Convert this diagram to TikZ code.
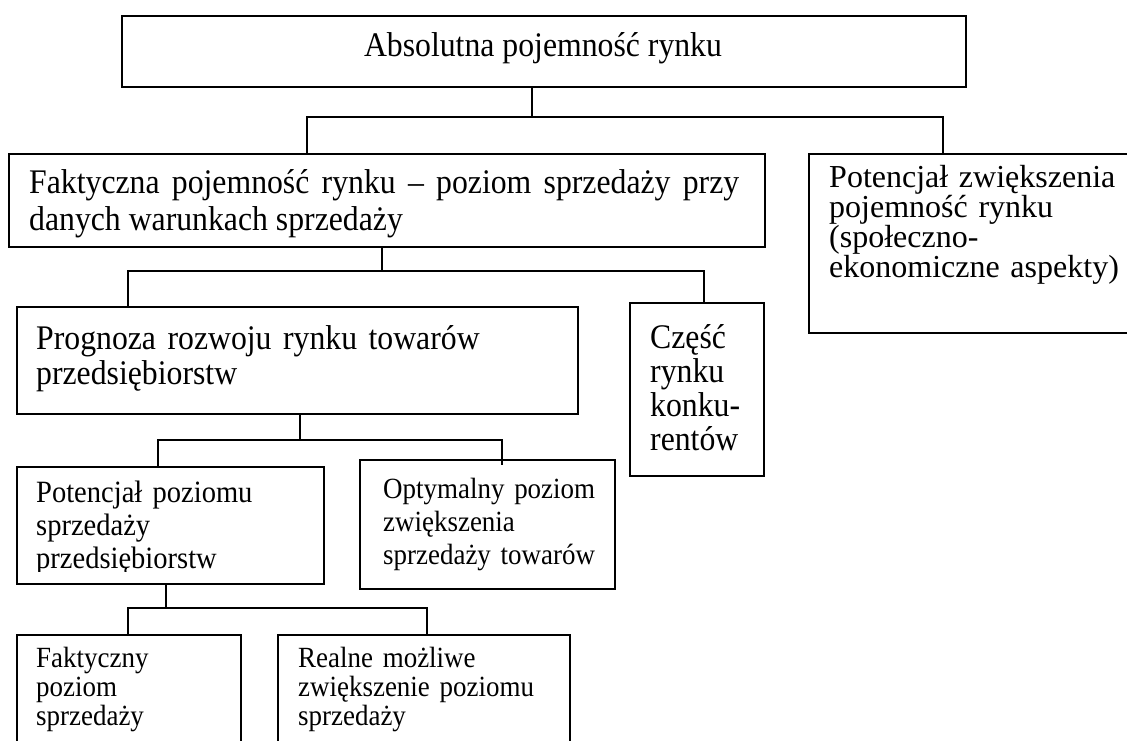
\documentclass[tikz,border=0pt]{standalone}
\usepackage{fontspec}
\setmainfont{Liberation Serif}
\newfontfamily\condfont[FakeStretch=0.92]{Liberation Serif}
\usetikzlibrary{calc}
\begin{document}
\begin{tikzpicture}[x=1pt,y=-1pt,
  box/.style={draw, line width=1.8pt, inner sep=0pt, anchor=north west},
  link/.style={line width=1.5pt},
  txt/.style={anchor=base west, inner sep=0pt, align=left},
  bigA/.style={font=\condfont\fontsize{34.5}{37}\selectfont},
  bigB/.style={font=\condfont\fontsize{34.5}{35}\selectfont},
  bigC/.style={font=\condfont\fontsize{34.5}{34}\selectfont},
  bigD/.style={font=\fontsize{32}{28.7}\selectfont},
  smA/.style={font=\condfont\fontsize{31}{33}\selectfont},
  smO/.style={font=\condfont\fontsize{29.3}{33}\selectfont},
  smB/.style={font=\condfont\fontsize{29.3}{29}\selectfont}]
\fill[white] (0,0) rectangle (1127,740);
\useasboundingbox (0,0) rectangle (1127,740);
\clip (0,0) rectangle (1127,740);

% boxes
\node[box, minimum width=844pt, minimum height=71pt] (top) at (121,15) {};
\node[box, minimum width=756pt, minimum height=93pt] (fakt) at (8,153) {};
\node[box, minimum width=332pt, minimum height=179pt] (potz) at (808,153) {};
\node[box, minimum width=561pt, minimum height=107pt] (prog) at (16,306) {};
\node[box, minimum width=134pt, minimum height=173pt] (czesc) at (629,302) {};
\node[box, minimum width=307pt, minimum height=117pt] (potp) at (16,466) {};
\node[box, minimum width=255pt, minimum height=129pt] (opt) at (359,459) {};
\node[box, minimum width=224pt, minimum height=126pt] (fakty) at (16,634) {};
\node[box, minimum width=292pt, minimum height=126pt] (real) at (277,634) {};

% texts
\node[anchor=base, inner sep=0pt, bigA] (tTop) at (543,56) {Absolutna pojemność rynku};
\node[txt, bigA, text width=710pt, align=justify] (tFakt) at (29,193)
  {Faktyczna pojemność rynku – poziom sprzedaży przy\linebreak danych warunkach sprzedaży};
\node[txt, bigD, text width=300pt] (tPotz) at (829,187)
  {Potencjał zwiększenia\\pojemność rynku\\(społeczno-\\ekonomiczne aspekty)};
\node[txt, bigB, text width=530pt] (tProg) at (36,349)
  {Prognoza rozwoju rynku towarów\\przedsiębiorstw};
\node[txt, bigC, text width=110pt] (tCzesc) at (650,348)
  {Część\\rynku\\konku-\\rentów};
\begin{scope}
\clip (16,466) rectangle (323,571);
\node[txt, smA, text width=285pt] (tPotp) at (36,502)
  {Potencjał poziomu\\sprzedaży\\przedsiębiorstw};
\end{scope}
\node[txt, smO, text width=230pt] (tOpt) at (383,498)
  {Optymalny poziom\\zwiększenia\\sprzedaży towarów};
\node[txt, smB, text width=200pt] (tFakty) at (36,667)
  {Faktyczny\\poziom\\sprzedaży};
\node[txt, smB, text width=270pt] (tReal) at (298,667)
  {Realne możliwe\\zwiększenie poziomu\\sprzedaży};

% bus junctions
\coordinate (b1M) at (532,117); \coordinate (b1L) at (307,117); \coordinate (b1R) at (943,117);
\coordinate (b2M) at (382,271); \coordinate (b2L) at (128,271); \coordinate (b2R) at (704,271);
\coordinate (b3M) at (300,440); \coordinate (b3L) at (158,440); \coordinate (b3R) at (502,440);
\coordinate (b4M) at (166,608); \coordinate (b4L) at (128,608); \coordinate (b4R) at (427,608);

% connectors
\draw[link] (top.south -| b1M) -- (b1M);
\draw[link] (fakt.north -| b1L) -- (b1L) -- (b1R) -- (potz.north -| b1R);
\draw[link] (fakt.south -| b2M) -- (b2M);
\draw[link] (prog.north -| b2L) -- (b2L) -- (b2R) -- (czesc.north -| b2R);
\draw[link] (prog.south -| b3M) -- (b3M);
\draw[link] (potp.north -| b3L) -- (b3L) -- (b3R) -- ($(opt.north -| b3R)+(0,6)$);
\draw[link] (potp.south -| b4M) -- (b4M);
\draw[link] (fakty.north -| b4L) -- (b4L) -- (b4R) -- (real.north -| b4R);
\end{tikzpicture}
\end{document}
